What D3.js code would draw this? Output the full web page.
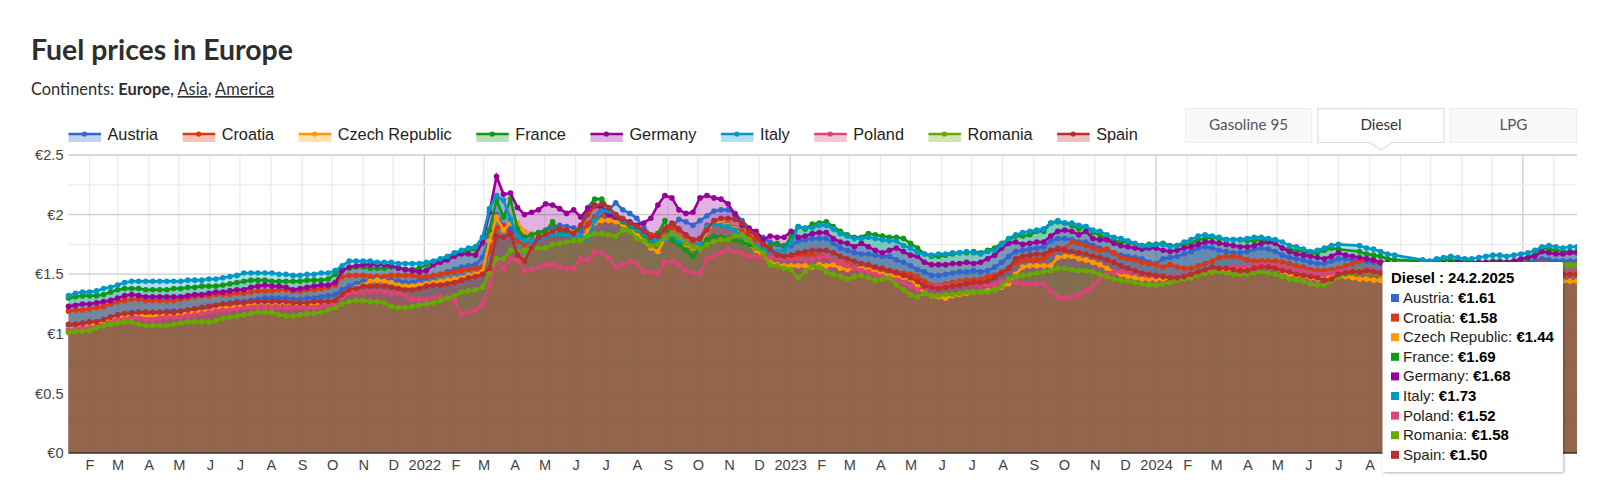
<!DOCTYPE html>
<html>
<head>
<meta charset="utf-8">
<title>Fuel prices in Europe</title>
<script src="https://cdnjs.cloudflare.com/ajax/libs/d3/7.8.5/d3.min.js"></script>
<style>
  html, body { margin: 0; padding: 0; background: #fff; }
  svg { display: block; }
  text { font-family: "Liberation Sans", Arial, sans-serif; }
  .head { font-family: Lato, "Noto Sans", sans-serif; }
</style>
</head>
<body>
<svg id="chart" width="1600" height="504"></svg>
<script>
// weekly prices in euro cents, first week 11.1.2021, one row is 13 weeks, null = no report that week
const austria = [
  107,107,108,109,110,112,114,116,117,118,118,118,118,
  118,119,119,119,120,121,122,122,124,125,126,127,127,
  128,129,130,130,130,130,129,129,130,130,131,132,133,
  137,140,142,144,145,146,146,145,144,143,143,145,147,
  148,150,152,154,156,157,158,164,180,200,190,188,183,
  181,183,185,187,189,191,190,189,186,192,198,205,204,
  210,204,201,197,189,183,184,187,190,196,194,191,195,
  199,203,204,204,201,195,189,184,181,177,175,174,174,
  178,179,180,180,180,176,172,170,168,167,167,166,165,
  165,162,160,157,154,152,149,149,150,151,152,152,153,
  152,153,156,160,165,169,170,171,172,173,178,180,180,
  179,177,177,174,172,170,168,166,165,164,163,160,159,
  163,164,165,167,169,172,173,172,170,169,168,168,169,
  171,172,171,169,166,164,163,162,160,159,159,161,163,
  163,162,162,161,160,159,158,158,157,157,157,157,157,
  157,158,158,158,158,158,159,159,159,159,159,159,160,
  160,161,163,162,161,161,161,161]
const croatia = [
  119,120,120,121,122,123,125,127,128,129,129,128,128,
  128,128,128,129,130,131,132,132,133,133,133,134,134,
  135,136,136,136,137,137,136,136,137,137,138,139,141,
  148,149,149,149,148,148,148,149,149,149,149,148,148,
  149,150,151,152,153,154,155,156,170,189,191,183,178,
  175,178,180,181,182,182,184,183,179,192,197,200,201,
  200,197,193,190,186,183,184,187,189,187,182,178,180,
  191,193,193,192,189,186,182,179,176,172,168,165,164,
  166,167,166,165,164,162,160,158,156,155,155,155,154,
  153,152,151,150,148,144,141,141,142,143,144,145,145,
  146,148,149,152,155,160,162,162,162,163,168,172,172,
  177,176,174,172,170,171,168,164,163,162,160,159,158,
  156,158,156,155,155,157,159,161,164,165,165,164,162,
  161,161,161,161,160,159,157,156,154,153,153,154,155,
  157,159,161,163,161,160,159,158,158,158,157,157,157,
  157,157,157,157,157,158,158,158,158,158,158,158,158,
  158,159,160,159,158,158,158,158]
const czech = [
  104,105,106,107,109,111,113,114,115,116,116,115,115,
  116,116,116,117,118,118,119,119,121,122,122,123,124,
  125,126,126,126,126,126,125,125,125,125,126,127,128,
  131,135,139,141,144,145,144,143,141,140,140,141,142,
  143,144,145,146,147,149,150,152,178,198,187,193,193,
  186,184,181,184,186,186,186,185,180,186,193,195,195,
  194,192,188,184,178,172,169,180,182,180,175,172,175,
  186,193,193,191,188,182,175,170,165,160,158,157,157,
  157,157,156,158,157,158,155,154,155,155,154,152,150,
  149,148,147,146,140,134,132,131,130,132,133,134,135,
  135,136,137,139,142,150,156,157,157,157,157,164,165,
  165,163,162,160,158,155,152,150,148,147,146,146,146,
  146,147,148,148,149,150,151,152,153,153,154,155,155,
  156,156,156,155,152,150,149,148,147,146,147,148,148,
  148,147,146,146,145,145,145,144,144,144,144,143,143,
  143,143,143,143,143,143,143,143,143,143,143,143,143,
  143,143,144,144,144,144,144,144]
const france = [
  130,131,132,132,132,133,135,137,138,138,138,137,137,
  137,137,138,138,139,139,140,140,140,141,142,143,144,
  145,145,145,144,144,144,144,144,145,145,145,146,150,
  154,155,156,156,155,155,155,156,156,154,154,155,158,
  160,162,164,166,168,170,171,176,187,212,198,213,188,
  181,183,185,186,194,185,186,184,190,206,213,213,205,
  198,194,190,187,183,178,184,195,179,175,170,165,172,
  179,182,181,180,179,177,175,172,172,174,176,172,182,
  190,188,192,193,194,190,186,183,181,181,184,183,182,
  181,181,180,176,172,167,165,165,166,167,168,168,169,
  168,170,172,176,179,182,182,183,186,186,193,194,193,
  191,188,190,185,183,180,178,177,177,175,174,175,175,
  176,174,174,175,176,179,180,181,180,179,179,179,178,
  178,179,178,176,172,171,170,169,167,168,170,172,171,
  null,null,169,167,166,165,163,162,null,null,null,161,160,
  161,162,162,161,161,160,160,160,161,161,160,161,162,
  163,168,172,171,170,169,169,169]
const germany = [
  123,124,125,125,126,127,128,130,132,133,132,131,131,
  131,131,131,131,132,133,133,134,135,135,136,137,137,
  139,140,141,140,140,139,137,138,139,140,141,141,143,
  153,156,157,158,158,158,158,157,155,154,153,152,153,
  158,160,162,165,167,167,166,177,202,232,217,218,206,
  200,202,204,209,208,205,201,204,198,205,208,205,200,
  198,195,194,191,193,197,208,216,214,204,201,202,214,
  216,214,213,209,200,191,188,186,179,182,181,181,186,
  181,182,184,185,185,180,177,176,173,176,173,170,168,
  170,172,169,166,165,160,158,158,158,159,159,160,159,
  160,163,166,172,176,177,175,176,177,177,182,186,187,
  186,183,186,180,179,179,176,174,173,172,171,172,172,
  170,169,170,172,173,175,177,177,176,175,174,173,173,
  174,176,177,176,172,169,167,166,165,164,163,165,168,
  166,165,164,163,162,160,159,158,157,157,157,157,158,
  158,159,159,160,160,160,160,160,160,160,160,161,163,
  164,165,169,168,167,167,168,168]
const italy = [
  132,134,135,135,136,138,139,141,143,144,144,144,144,
  144,144,144,144,145,145,145,146,146,147,148,149,151,
  151,151,151,151,150,150,149,149,150,150,151,151,153,
  157,161,161,161,161,160,160,160,159,159,159,159,160,
  161,163,165,168,170,172,173,181,205,216,212,196,182,
  178,178,180,181,183,183,183,182,182,180,195,203,203,
  200,195,192,188,184,180,178,180,183,178,176,174,176,
  190,192,191,190,187,182,178,174,171,170,169,170,176,
  190,189,189,191,191,188,184,182,180,180,181,180,179,
  178,178,174,172,168,167,166,167,167,168,168,169,168,
  167,169,170,175,180,183,185,186,187,188,193,195,193,
  193,191,190,187,186,183,181,180,178,176,174,174,175,
  175,173,174,177,179,182,183,182,181,179,179,179,180,
  181,181,180,179,177,174,173,171,169,170,172,174,175,
  null,null,174,172,171,169,167,166,null,null,null,162,161,
  163,164,165,164,163,163,164,165,166,166,165,166,167,
  168,170,173,174,173,172,173,173]
const poland = [
  103,104,105,105,106,107,109,112,112,113,113,112,112,
  113,114,114,114,115,116,117,118,119,120,120,121,122,
  122,122,122,122,122,122,122,122,122,122,123,124,126,
  131,134,135,135,136,136,135,134,134,132,129,129,129,
  130,131,130,128,116,118,120,125,141,162,155,163,162,
  153,154,156,158,158,156,155,155,163,162,169,168,164,
  156,158,161,159,152,152,151,160,161,158,153,151,151,
  163,166,168,171,169,167,165,165,165,164,164,163,163,
  163,162,163,164,165,162,160,157,155,153,152,150,148,
  146,145,143,140,137,139,140,140,140,141,142,142,142,
  141,141,141,144,145,143,142,142,142,142,136,131,130,
  131,133,136,140,146,150,152,152,152,152,150,149,148,
  148,148,148,149,150,151,152,153,155,155,156,156,156,
  157,158,158,157,156,155,153,152,151,150,150,151,152,
  153,153,154,154,153,152,152,151,151,151,150,150,150,
  151,151,151,151,151,151,151,152,152,152,152,152,152,
  152,153,153,153,152,152,152,152]
const romania = [
  101,102,102,103,105,107,108,109,110,110,108,107,107,
  107,107,108,109,110,110,110,110,111,113,114,115,116,
  117,118,118,118,116,115,115,116,117,117,118,120,122,
  125,127,128,128,127,127,126,123,122,122,123,124,125,
  126,128,130,132,135,136,137,139,151,163,163,170,169,
  170,171,172,172,175,176,177,178,178,182,184,184,183,
  182,187,186,180,178,174,175,181,184,181,176,173,171,
  175,177,179,179,182,183,179,172,168,158,157,155,154,
  147,152,157,156,152,150,148,146,148,149,147,145,146,
  147,141,137,133,131,134,132,132,133,133,134,135,135,
  135,135,137,140,146,148,149,150,151,152,153,155,155,
  154,153,153,152,150,148,146,145,144,143,142,141,141,
  142,143,145,146,147,149,151,152,152,151,150,150,150,
  151,152,151,150,148,146,145,144,142,141,141,144,148,
  150,151,153,152,151,150,150,150,151,151,152,153,154,
  155,155,155,155,154,154,154,154,154,155,155,155,156,
  156,156,157,157,157,158,158,158]
const spain = [
  108,108,109,110,110,112,114,116,117,117,118,118,118,
  118,118,118,119,120,121,122,123,124,125,125,126,126,
  127,127,127,127,127,127,126,126,126,127,127,127,128,
  133,137,138,140,140,140,140,139,138,137,137,138,140,
  141,141,142,143,145,147,148,150,155,182,181,184,166,
  161,172,181,183,186,188,187,184,191,200,207,209,206,
  200,196,193,190,186,181,182,188,193,188,183,179,180,
  187,195,197,197,196,193,186,183,175,171,166,165,166,
  168,169,170,170,170,168,165,163,161,159,158,156,155,
  153,151,149,147,144,140,139,138,139,140,141,142,143,
  143,144,147,151,155,163,165,166,167,167,170,171,170,
  169,168,167,165,164,162,160,157,155,153,151,150,149,
  148,147,147,148,150,152,154,156,155,155,154,153,153,
  155,156,156,155,153,152,150,149,148,147,145,146,150,
  151,152,152,153,152,151,151,151,150,150,150,150,150,
  150,150,150,150,150,150,150,150,150,150,150,150,150,
  151,151,152,151,151,150,150,150]

const names = ['Austria', 'Croatia', 'Czech Republic', 'France', 'Germany', 'Italy', 'Poland', 'Romania', 'Spain']
const colors = ['#3366cc', '#dc3912', '#ff9900', '#109618', '#990099', '#0099c6', '#dd4477', '#66aa00', '#b82e2e']
const prices = [austria, croatia, czech, france, germany, italy, poland, romania, spain]
const yTicks = [0, 0.5, 1, 1.5, 2, 2.5]
const monthLetters = ['', 'F', 'M', 'A', 'M', 'J', 'J', 'A', 'S', 'O', 'N', 'D']
const fuels = ['Gasoline 95', 'Diesel', 'LPG']

const firstWeek = new Date(2021, 0, 11)
const lastWeek = new Date(2025, 1, 24)
const weekOf = i => d3.timeDay.offset(firstWeek, i * 7)

const svg = d3.select('#chart')
const plotLeft = 68.5, plotRight = 1577, plotTop = 155, plotBottom = 453
const tipX = 1382.5, tipY = 262

const x = d3.scaleTime().domain([firstWeek, lastWeek]).range([plotLeft, plotRight])
const y = d3.scaleLinear().domain([0, 2.5]).range([plotBottom, plotTop])

// header
svg.append('text').attr('class', 'head').attr('x', 31).attr('y', 59.5)
  .attr('font-size', 28.4).attr('font-weight', 700).attr('fill', '#2e2e2e')
  .text('Fuel prices in Europe')
const sub = svg.append('text').attr('class', 'head').attr('x', 31).attr('y', 95)
  .attr('font-size', 16.4).attr('fill', '#2e2e2e')
sub.append('tspan').text('Continents: ')
sub.append('tspan').attr('font-weight', 700).text('Europe')
sub.append('tspan').text(', ')
sub.append('tspan').attr('text-decoration', 'underline').text('Asia')
sub.append('tspan').text(', ')
sub.append('tspan').attr('text-decoration', 'underline').text('America')

// grid
const months = d3.timeMonth.range(new Date(2021, 1, 1), lastWeek)
const grid = svg.append('g')
grid.selectAll('.vgrid').data(months).join('line')
  .attr('x1', d => x(d)).attr('x2', d => x(d)).attr('y1', plotTop).attr('y2', plotBottom)
  .attr('stroke', d => d.getMonth() === 0 ? '#cccccc' : '#ebebeb').attr('stroke-width', 1.3)
grid.selectAll('.hgrid').data(d3.range(0.25, 2.5, 0.25)).join('line')
  .attr('x1', plotLeft).attr('x2', plotRight).attr('y1', d => y(d)).attr('y2', d => y(d))
  .attr('stroke', d => d % 0.5 === 0 ? '#cccccc' : '#ebebeb').attr('stroke-width', 1.3)
grid.append('line').attr('x1', plotLeft).attr('x2', plotRight).attr('y1', plotTop).attr('y2', plotTop)
  .attr('stroke', '#cccccc').attr('stroke-width', 1.3)

// series
svg.append('defs').append('clipPath').attr('id', 'plot').append('rect')
  .attr('x', plotLeft - 6).attr('y', plotTop - 10).attr('width', plotRight - plotLeft + 6).attr('height', plotBottom - plotTop + 10)

const seriesData = prices.map(values => values
  .map((v, i) => ({ date: weekOf(i), v: v === null ? null : v / 100 }))
  .filter(d => d.v !== null))

const area = d3.area().x(d => x(d.date)).y0(y(0)).y1(d => y(d.v))
const line = d3.line().x(d => x(d.date)).y(d => y(d.v))

const plot = svg.append('g').attr('clip-path', 'url(#plot)')
plot.selectAll('.area').data(seriesData).join('path')
  .attr('d', area).attr('fill', (d, i) => colors[i]).attr('fill-opacity', 0.3)
seriesData.forEach((data, i) => {
  plot.append('path').attr('d', line(data)).attr('fill', 'none')
    .attr('stroke', colors[i]).attr('stroke-width', 2.6)
  plot.selectAll(null).data(data).join('circle')
    .attr('cx', d => x(d.date)).attr('cy', d => y(d.v)).attr('r', 2.8).attr('fill', colors[i])
})

// axes
const yAxis = d3.axisLeft(y).tickValues(yTicks).tickSize(0).tickPadding(5)
  .tickFormat(d => '€' + d)
const gy = svg.append('g').attr('transform', `translate(${plotLeft},0)`).call(yAxis)
gy.select('.domain').remove()
gy.selectAll('text').attr('font-size', 14.6).attr('fill', '#444').style('font-family', '"Liberation Sans"')

// the tooltip hides the labels from September 2024 on
const xAxis = d3.axisBottom(x).tickValues(months.filter(d => x(d) < tipX)).tickSize(0).tickPadding(7)
  .tickFormat(d => d.getMonth() === 0 ? d.getFullYear() : monthLetters[d.getMonth()])
const gx = svg.append('g').attr('transform', `translate(0,${plotBottom})`).call(xAxis)
gx.select('.domain').remove()
gx.selectAll('text').attr('font-size', 14.6).attr('fill', '#444').style('font-family', '"Liberation Sans"')

svg.append('line').attr('x1', plotLeft).attr('x2', plotRight).attr('y1', plotBottom).attr('y2', plotBottom)
  .attr('stroke', '#333').attr('stroke-width', 1.3)

// legend
let legendX = plotLeft
names.forEach((name, i) => {
  const g = svg.append('g').attr('transform', `translate(${legendX},0)`)
  g.append('rect').attr('y', 134).attr('width', 32.5).attr('height', 8).attr('fill', colors[i]).attr('fill-opacity', 0.3)
  g.append('line').attr('x2', 32.5).attr('y1', 134).attr('y2', 134).attr('stroke', colors[i]).attr('stroke-width', 2.6)
  g.append('circle').attr('cx', 16).attr('cy', 134).attr('r', 2.6).attr('fill', colors[i])
  const t = g.append('text').attr('x', 39).attr('y', 140).attr('font-size', 16.3).attr('fill', '#222').text(name)
  legendX += 39 + t.node().getComputedTextLength() + 24.5
})

// fuel tabs
const tabX = d3.scaleBand().domain(fuels).range([1185, 1577]).paddingInner(0.04)
fuels.forEach(fuel => {
  const active = fuel === 'Diesel'
  const g = svg.append('g')
  g.append('rect').attr('x', tabX(fuel) + 0.5).attr('y', 108.5).attr('width', tabX.bandwidth() - 1).attr('height', 34)
    .attr('fill', active ? '#fff' : '#f9f9f9').attr('stroke', active ? '#dddddd' : '#eeeeee').attr('stroke-width', 1.2)
  if (active) {
    const c = tabX(fuel) + tabX.bandwidth() / 2
    g.append('path').attr('d', `M${c - 11},142.5L${c},150L${c + 11},142.5`).attr('fill', '#fff').attr('stroke', '#dddddd').attr('stroke-width', 1.2)
    g.append('line').attr('x1', c - 10).attr('x2', c + 10).attr('y1', 142.5).attr('y2', 142.5).attr('stroke', '#fff').attr('stroke-width', 1.6)
  }
  g.append('text').attr('class', 'head').attr('x', tabX(fuel) + tabX.bandwidth() / 2).attr('y', 130)
    .attr('text-anchor', 'middle').attr('font-size', 15.2).attr('fill', active ? '#333' : '#555').text(fuel)
})

// tooltip for the last week
const shadow = svg.select('defs').append('filter').attr('id', 'shadow').attr('x', '-10%').attr('y', '-10%').attr('width', '120%').attr('height', '120%')
shadow.append('feDropShadow').attr('dx', 1).attr('dy', 1).attr('stdDeviation', 1.5).attr('flood-color', '#000').attr('flood-opacity', 0.3)
const tip = svg.append('g').attr('transform', `translate(${tipX},${tipY})`)
tip.append('rect').attr('width', 180.5).attr('height', 210).attr('rx', 2).attr('fill', '#fff').attr('filter', 'url(#shadow)')
tip.append('text').attr('x', 8.5).attr('y', 21).attr('font-size', 14.9).attr('font-weight', 700).attr('fill', '#000')
  .text('Diesel : ' + d3.timeFormat('%-d.%-m.%Y')(lastWeek))
names.forEach((name, i) => {
  const rowY = 36 + i * 19.6
  tip.append('rect').attr('x', 8.5).attr('y', rowY - 4).attr('width', 8).attr('height', 8).attr('fill', colors[i])
  const t = tip.append('text').attr('x', 20.5).attr('y', rowY + 5).attr('font-size', 15).attr('fill', '#222')
  t.append('tspan').text(name + ': ')
  t.append('tspan').attr('font-weight', 700).attr('fill', '#000').text('€' + d3.format('.2f')(prices[i][prices[i].length - 1] / 100))
})
</script>
</body>
</html>
